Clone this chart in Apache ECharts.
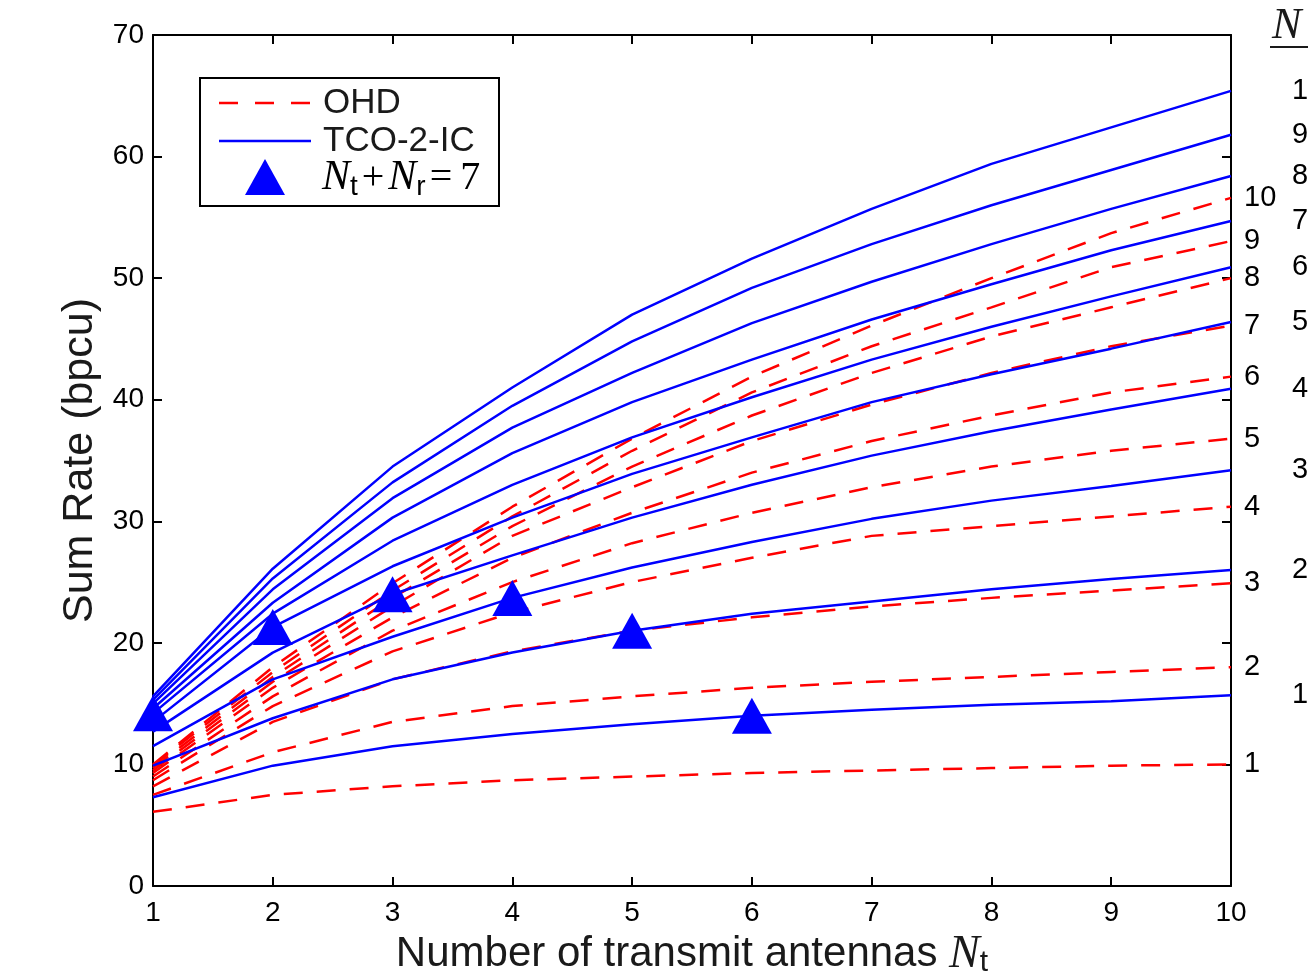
<!DOCTYPE html>
<html>
<head>
<meta charset="utf-8">
<script src="https://cdn.jsdelivr.net/npm/echarts@6/dist/echarts.min.js"></script>
<style>
html, body { margin: 0; padding: 0; background: #fff; }
#main { width: 1308px; height: 979px; }
</style>
</head>
<body>
<div id="main"></div>
<script>
// transmit antennas Nt
var nt = [1, 2, 3, 4, 5, 6, 7, 8, 9, 10];
var yTicks = [0, 10, 20, 30, 40, 50, 60, 70];

// OHD, one array per Nr
var ohdNr1 = [6.1, 7.5, 8.2, 8.7, 9.0, 9.3, 9.5, 9.7, 9.9, 10.0];
var ohdNr2 = [7.5, 11.0, 13.5, 14.8, 15.6, 16.3, 16.8, 17.2, 17.6, 18.0];
var ohdNr3 = [8.2, 13.5, 17.0, 19.3, 21.0, 22.1, 23.0, 23.7, 24.3, 24.9];
var ohdNr4 = [8.7, 14.8, 19.3, 22.5, 25.0, 27.0, 28.8, 29.6, 30.4, 31.2];
var ohdNr5 = [9.0, 15.6, 21.0, 25.0, 28.2, 30.7, 32.8, 34.5, 35.8, 36.8];
var ohdNr6 = [9.3, 16.3, 22.1, 27.0, 30.7, 34.0, 36.6, 38.7, 40.6, 41.9];
var ohdNr7 = [9.5, 16.8, 23.0, 28.8, 32.8, 36.6, 39.6, 42.2, 44.4, 46.1];
var ohdNr8 = [9.7, 17.2, 23.7, 29.6, 34.5, 38.7, 42.2, 45.2, 47.6, 50.0];
var ohdNr9 = [9.9, 17.6, 24.3, 30.4, 35.8, 40.6, 44.4, 47.6, 50.9, 53.05];
var ohdNr10 = [10.0, 18.0, 24.9, 31.2, 36.8, 41.9, 46.1, 50.0, 53.7, 56.6];

// TCO-2-IC, one array per Nr
var tcoNr1 = [7.3, 9.9, 11.5, 12.5, 13.3, 14.0, 14.5, 14.9, 15.2, 15.7];
var tcoNr2 = [9.9, 13.8, 17.0, 19.2, 21.0, 22.4, 23.4, 24.4, 25.25, 26.0];
var tcoNr3 = [11.5, 17.0, 20.5, 23.7, 26.2, 28.3, 30.2, 31.7, 32.9, 34.2];
var tcoNr4 = [12.7, 19.2, 24.0, 27.2, 30.3, 33.0, 35.4, 37.4, 39.2, 40.9];
var tcoNr5 = [13.5, 21.3, 26.3, 30.3, 33.9, 36.9, 39.8, 42.1, 44.2, 46.4];
var tcoNr6 = [14.2, 22.4, 28.4, 33.0, 36.9, 40.2, 43.3, 46.0, 48.5, 50.9];
var tcoNr7 = [14.6, 23.3, 30.3, 35.6, 39.8, 43.3, 46.6, 49.5, 52.3, 54.7];
var tcoNr8 = [15.0, 24.4, 31.9, 37.7, 42.2, 46.3, 49.7, 52.8, 55.7, 58.4];
var tcoNr9 = [15.3, 25.3, 33.2, 39.5, 44.8, 49.2, 52.8, 56.0, 58.9, 61.8];
var tcoNr10 = [15.6, 26.1, 34.5, 41.0, 47.0, 51.6, 55.7, 59.4, 62.4, 65.4];

// Nt + Nr = 7 points
var sumNt = [1, 2, 3, 4, 5, 6];
var sumRate7 = [14.2, 21.3, 24.0, 23.7, 21.0, 14.0];

var ohdAll = [ohdNr1, ohdNr2, ohdNr3, ohdNr4, ohdNr5, ohdNr6, ohdNr7, ohdNr8, ohdNr9, ohdNr10];
var tcoAll = [tcoNr1, tcoNr2, tcoNr3, tcoNr4, tcoNr5, tcoNr6, tcoNr7, tcoNr8, tcoNr9, tcoNr10];

var sans = '"Liberation Sans", Arial, sans-serif';
var serif = '"Liberation Serif", "DejaVu Serif", serif';
var txt = '#1a1a1a';

function _map(arr, fn) {
	var out = [];
	for (var i = 0; i < arr.length; i++) out.push(fn(arr[i], i));
	return out;
}
function pairs(ys) {
	return _map(nt, function (x, i) { return [x, ys[i]]; });
}

var series = [];
for (var i = 0; i < ohdAll.length; i++) {
	series.push({
		name: 'OHD',
		type: 'line',
		data: pairs(ohdAll[i]),
		showSymbol: false,
		silent: true,
		z: 2,
		lineStyle: { color: '#ff0000', width: 2.5, type: [19, 14] },
		endLabel: {
			show: true, distance: 13,
			formatter: String(i + 1),
			color: '#000', fontFamily: sans, fontSize: 29
		}
	});
}
for (var j = 0; j < tcoAll.length; j++) {
	series.push({
		name: 'TCO-2-IC',
		type: 'line',
		data: pairs(tcoAll[j]),
		showSymbol: false,
		silent: true,
		z: 3,
		lineStyle: { color: '#0000ff', width: 2.5 },
		endLabel: {
			show: true, distance: 61,
			formatter: String(j + 1),
			color: '#000', fontFamily: sans, fontSize: 29
		}
	});
}
series.push({
	name: 'sum7',
	type: 'scatter',
	data: _map(sumNt, function (x, i) { return [x, sumRate7[i]]; }),
	symbol: 'triangle',
	symbolSize: [40, 36],
	clip: false,
	z: 5,
	itemStyle: { color: '#0000ff', opacity: 1 }
});

var axisCommon = {
	axisLine: { show: true, onZero: false, lineStyle: { color: '#000', width: 2 } },
	axisTick: { show: true, inside: true, length: 9, lineStyle: { color: '#000', width: 2 } },
	splitLine: { show: false }
};

var mathRich = {
	n: { fontFamily: serif, fontStyle: 'italic', fontSize: 46, color: txt },
	s: { fontFamily: sans, fontSize: 30, color: txt, padding: [16, 0, 0, 0] },
	t: { fontFamily: sans, fontSize: 42, color: txt }
};

var chart = echarts.init(document.getElementById('main'), null, { renderer: 'canvas' });
chart.setOption({
	animation: false,
	backgroundColor: '#fff',
	grid: { left: 153, right: 77, top: 35, bottom: 93, outerBoundsMode: 'none', containLabel: false },
	xAxis: [
		Object.assign({
			type: 'value', min: 1, max: 10, interval: 1, position: 'bottom',
			name: '{t|Number of transmit antennas }{n|N}{s|t}',
			nameLocation: 'middle', nameGap: 25,
			nameTextStyle: { rich: mathRich },
			axisLabel: { color: '#000', fontFamily: sans, fontSize: 28, margin: 13 }
		}, axisCommon),
		Object.assign({
			type: 'value', min: 1, max: 10, interval: 1, position: 'top',
			axisLabel: { show: false }
		}, axisCommon)
	],
	yAxis: [
		Object.assign({
			type: 'value', min: yTicks[0], max: yTicks[yTicks.length - 1], interval: 10, position: 'left',
			name: 'Sum Rate (bpcu)', nameLocation: 'middle', nameGap: 48, nameRotate: 90,
			nameTextStyle: { color: txt, fontFamily: sans, fontSize: 43 },
			axisLabel: { color: '#000', fontFamily: sans, fontSize: 28, margin: 9 }
		}, axisCommon),
		Object.assign({
			type: 'value', min: yTicks[0], max: yTicks[yTicks.length - 1], interval: 10, position: 'right',
			axisLabel: { show: false }
		}, axisCommon)
	],
	series: series,
	graphic: [
		// legend box
		{
			type: 'group', left: 199, top: 77, z: 100,
			children: [
				{ type: 'rect', shape: { x: 0, y: 0, width: 299, height: 128 },
				  style: { fill: '#fff', stroke: '#000', lineWidth: 2 } },
				{ type: 'line', shape: { x1: 19, y1: 25, x2: 111, y2: 25 },
				  style: { stroke: '#ff0000', lineWidth: 2.5, lineDash: [19, 17] } },
				{ type: 'text', x: 123, y: 25,
				  style: { text: 'OHD', font: '35px ' + sans, fill: txt, verticalAlign: 'middle' } },
				{ type: 'line', shape: { x1: 19, y1: 63, x2: 111, y2: 63 },
				  style: { stroke: '#0000ff', lineWidth: 2.5 } },
				{ type: 'text', x: 123, y: 63,
				  style: { text: 'TCO-2-IC', font: '35px ' + sans, fill: txt, verticalAlign: 'middle' } },
				{ type: 'polygon', shape: { points: [[65, 81], [85, 117], [45, 117]] },
				  style: { fill: '#0000ff' } },
				{ type: 'text', x: 122, y: 100,
				  style: {
					text: '{n|N}{s|t}{o|+}{n|N}{s|r}{o|=}{o|7}',
					rich: {
						n: { fontFamily: serif, fontStyle: 'italic', fontSize: 42, color: txt },
						s: { fontFamily: sans, fontSize: 28, color: txt, padding: [18, 0, 0, 0] },
						o: { fontFamily: serif, fontSize: 40, color: txt, padding: [0, 4, 0, 4] }
					},
					verticalAlign: 'middle'
				  } }
			]
		},
		// header of the right label column (cut by the edge)
		{ type: 'text', left: 1272, top: 4, z: 100,
		  style: { text: 'N', font: 'italic 44px ' + serif, fill: txt } },
		{ type: 'line', z: 100, shape: { x1: 1270, y1: 47, x2: 1308, y2: 47 },
		  style: { stroke: txt, lineWidth: 2 } }
	]
});
</script>
</body>
</html>
